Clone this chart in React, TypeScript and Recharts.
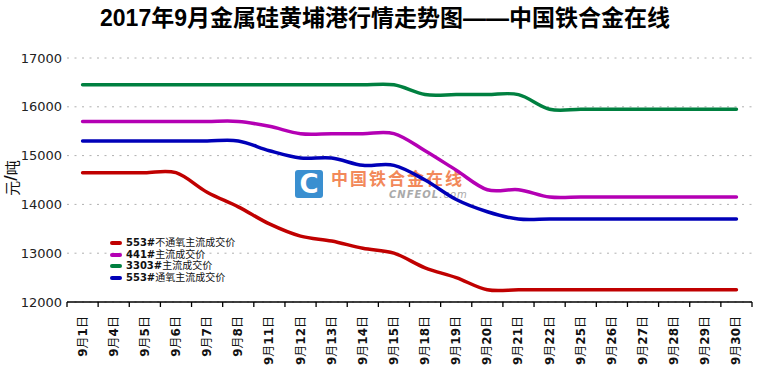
import React from 'react';
import { LineChart, Line, XAxis, YAxis, CartesianGrid, Legend } from 'recharts';

const categories = ['9月1日', '9月4日', '9月5日', '9月6日', '9月7日', '9月8日', '9月11日', '9月12日', '9月13日', '9月14日', '9月15日', '9月18日', '9月19日', '9月20日', '9月21日', '9月22日', '9月25日', '9月26日', '9月27日', '9月28日', '9月29日', '9月30日'];

const price553NoOxygen = [14650, 14650, 14650, 14650, 14250, 13950, 13600, 13350, 13250, 13100, 13000, 12700, 12500, 12250, 12250, 12250, 12250, 12250, 12250, 12250, 12250, 12250];
const price441 = [15700, 15700, 15700, 15700, 15700, 15700, 15600, 15450, 15450, 15450, 15450, 15100, 14700, 14300, 14300, 14150, 14150, 14150, 14150, 14150, 14150, 14150];
const price3303 = [16450, 16450, 16450, 16450, 16450, 16450, 16450, 16450, 16450, 16450, 16450, 16250, 16250, 16250, 16250, 15950, 15950, 15950, 15950, 15950, 15950, 15950];
const price553Oxygen = [15300, 15300, 15300, 15300, 15300, 15300, 15100, 14950, 14950, 14800, 14800, 14500, 14100, 13850, 13700, 13700, 13700, 13700, 13700, 13700, 13700, 13700];

const yTicks = [12000, 13000, 14000, 15000, 16000, 17000];

const seriesInfo = [
  { key: 's553n', name: '553#不通氧主流成交价', color: '#c00000' },
  { key: 's441', name: '441#主流成交价', color: '#b400b4' },
  { key: 's3303', name: '3303#主流成交价', color: '#008040' },
  { key: 's553o', name: '553#通氧主流成交价', color: '#0000b8' },
];

const data = categories.map((c, i) => ({
  idx: i,
  cat: c,
  s553n: price553NoOxygen[i],
  s441: price441[i],
  s3303: price3303[i],
  s553o: price553Oxygen[i],
}));

const labelTicks = categories.map((_, i) => i);
const edgeTicks = [...categories.map((_, i) => i - 0.5), categories.length - 0.5];

// Catmull-Rom style smoothing (like spreadsheet "smoothed line")
const smoothCurve: any = (context: any) => {
  let pts: [number, number][] = [];
  return {
    areaStart() {},
    areaEnd() {},
    lineStart() {
      pts = [];
    },
    point(x: number, y: number) {
      pts.push([+x, +y]);
    },
    lineEnd() {
      const n = pts.length;
      if (!n) return;
      context.moveTo(pts[0][0], pts[0][1]);
      const t = 1 / 6;
      for (let i = 0; i < n - 1; i++) {
        const p0 = pts[Math.max(0, i - 1)];
        const p1 = pts[i];
        const p2 = pts[i + 1];
        const p3 = pts[Math.min(n - 1, i + 2)];
        context.bezierCurveTo(
          p1[0] + (p2[0] - p0[0]) * t,
          p1[1] + (p2[1] - p0[1]) * t,
          p2[0] - (p3[0] - p1[0]) * t,
          p2[1] - (p3[1] - p1[1]) * t,
          p2[0],
          p2[1]
        );
      }
    },
  };
};

const splitParts = (s: string) => s.split(/([0-9#]+)/).filter((p) => p.length > 0);

function XLabelTick(props: any) {
  const { x, y, payload } = props;
  const label = categories[payload.value];
  if (label === undefined) return null;
  return (
    <g transform={`translate(${x},${y})`}>
      <text
        transform="rotate(-90)"
        x={-5}
        y={0}
        textAnchor="end"
        dominantBaseline="central"
        fontSize={12}
        fill="#111"
        fontFamily="'DejaVu Sans', 'Noto Sans CJK SC', sans-serif"
      >
        {splitParts(label).map((p, i) => (
          <tspan key={i} fontWeight={/[0-9]/.test(p) ? 'bold' : 'normal'}>{p}</tspan>
        ))}
      </text>
    </g>
  );
}

function EmptyTick() {
  return <g />;
}

function LegendBox() {
  return (
    <div style={{ fontSize: 10, lineHeight: '11.7px', color: '#111', fontFamily: "'DejaVu Sans', 'Noto Sans CJK SC', sans-serif" }}>
      {seriesInfo.map((s) => (
        <div key={s.key} style={{ display: 'flex', alignItems: 'center', whiteSpace: 'nowrap' }}>
          <span style={{ display: 'inline-block', width: 12, height: 4, borderRadius: 2, background: s.color, marginRight: 4 }} />
          <span>
            {splitParts(s.name).map((p, i) => (
              <span key={i} style={{ fontWeight: /[0-9]/.test(p) ? 'bold' : 'normal' }}>{p}</span>
            ))}
          </span>
        </div>
      ))}
    </div>
  );
}

function YUnitLabel(props: any) {
  const vb = props.viewBox || { x: 0, y: 0, width: 0, height: 0 };
  const cx = vb.x + 11;
  const cy = vb.y + vb.height / 2 - 2;
  return (
    <text
      x={cx}
      y={cy}
      transform={`rotate(-90, ${cx}, ${cy})`}
      textAnchor="middle"
      dominantBaseline="central"
      fontSize={15}
      fill="#111"
      fontFamily="'Noto Sans CJK SC', sans-serif"
    >
      元<tspan fontWeight="bold" fontFamily="'DejaVu Sans', sans-serif">/</tspan>吨
    </text>
  );
}

export default function App() {
  return (
    <div style={{ position: 'absolute', left: 0, top: 0, width: 760, height: 370, background: '#fff', overflow: 'hidden' }}>
      <div
        style={{
          position: 'absolute',
          left: 0,
          top: 3,
          width: 770,
          textAlign: 'center',
          fontSize: 23,
          fontWeight: 'bold',
          lineHeight: '30px',
          color: '#000',
          fontFamily: "'Liberation Sans Narrow', 'Liberation Sans', 'Noto Sans CJK SC', sans-serif",
        }}
      >
        2017年9月金属硅黄埔港行情走势图——中国铁合金在线
      </div>
      {/* watermark */}
      <div style={{ position: 'absolute', left: 295, top: 170, width: 28, height: 28, borderRadius: 3, background: '#3a8fd0' }}>
        <div style={{ position: 'absolute', left: 0, top: 0, width: 28, height: 28, textAlign: 'center', lineHeight: '28px', color: '#fff', fontWeight: 'bold', fontSize: 26, fontFamily: "'DejaVu Sans', sans-serif" }}>C</div>
      </div>
      <div style={{ position: 'absolute', left: 331, top: 166, fontSize: 17, letterSpacing: 2, color: '#f2895a', fontWeight: 'bold', lineHeight: '24px', fontFamily: "'Noto Sans CJK SC', sans-serif", whiteSpace: 'nowrap' }}>
        中国铁合金在线
      </div>
      <div style={{ position: 'absolute', left: 389, top: 189, fontSize: 10, color: '#aaa', fontStyle: 'italic', fontWeight: 'bold', lineHeight: '12px', fontFamily: "'DejaVu Sans', sans-serif", letterSpacing: 1, whiteSpace: 'nowrap' }}>
        CNFEOL<span style={{ fontWeight: 'normal' }}>.com</span>
      </div>
      <div style={{ position: 'absolute', left: 0, top: 0 }}>
        <LineChart width={760} height={370} data={data} margin={{ top: 58, right: 8, bottom: 0, left: 0 }}>
          <CartesianGrid vertical={false} stroke="#b0b0b0" strokeDasharray="2 5.5" />
          <XAxis
            xAxisId={0}
            type="number"
            dataKey="idx"
            domain={[-0.5, categories.length - 0.5]}
            ticks={edgeTicks}
            interval={0}
            height={1}
            tickSize={5}
            tick={<EmptyTick />}
            axisLine={{ stroke: '#000', strokeWidth: 1.3 }}
            tickLine={{ stroke: '#000', strokeWidth: 1.3 }}
          />
          <XAxis
            xAxisId="lab"
            type="number"
            dataKey="idx"
            domain={[-0.5, categories.length - 0.5]}
            ticks={labelTicks}
            interval={0}
            height={67}
            axisLine={false}
            tickLine={false}
            tick={<XLabelTick />}
          />
          <YAxis
            domain={[12000, 17000]}
            ticks={yTicks}
            interval={0}
            width={67}
            axisLine={false}
            tickLine={false}
            tickSize={3}
            tick={{ fontSize: 13, fill: '#222', fontFamily: "'DejaVu Sans', sans-serif" }}
            label={<YUnitLabel />}
          />
          <Legend
            layout="vertical"
            align="center"
            verticalAlign="middle"
            wrapperStyle={{ left: 110, top: 237, width: 200, height: 48 }}
            content={() => <LegendBox />}
          />
          {seriesInfo.map((s) => (
            <Line
              key={s.key}
              xAxisId="lab"
              dataKey={s.key}
              name={s.name}
              type={smoothCurve}
              stroke={s.color}
              strokeWidth={3.5}
              strokeLinecap="round"
              dot={false}
              activeDot={false}
              isAnimationActive={false}
            />
          ))}
        </LineChart>
      </div>
    </div>
  );
}
